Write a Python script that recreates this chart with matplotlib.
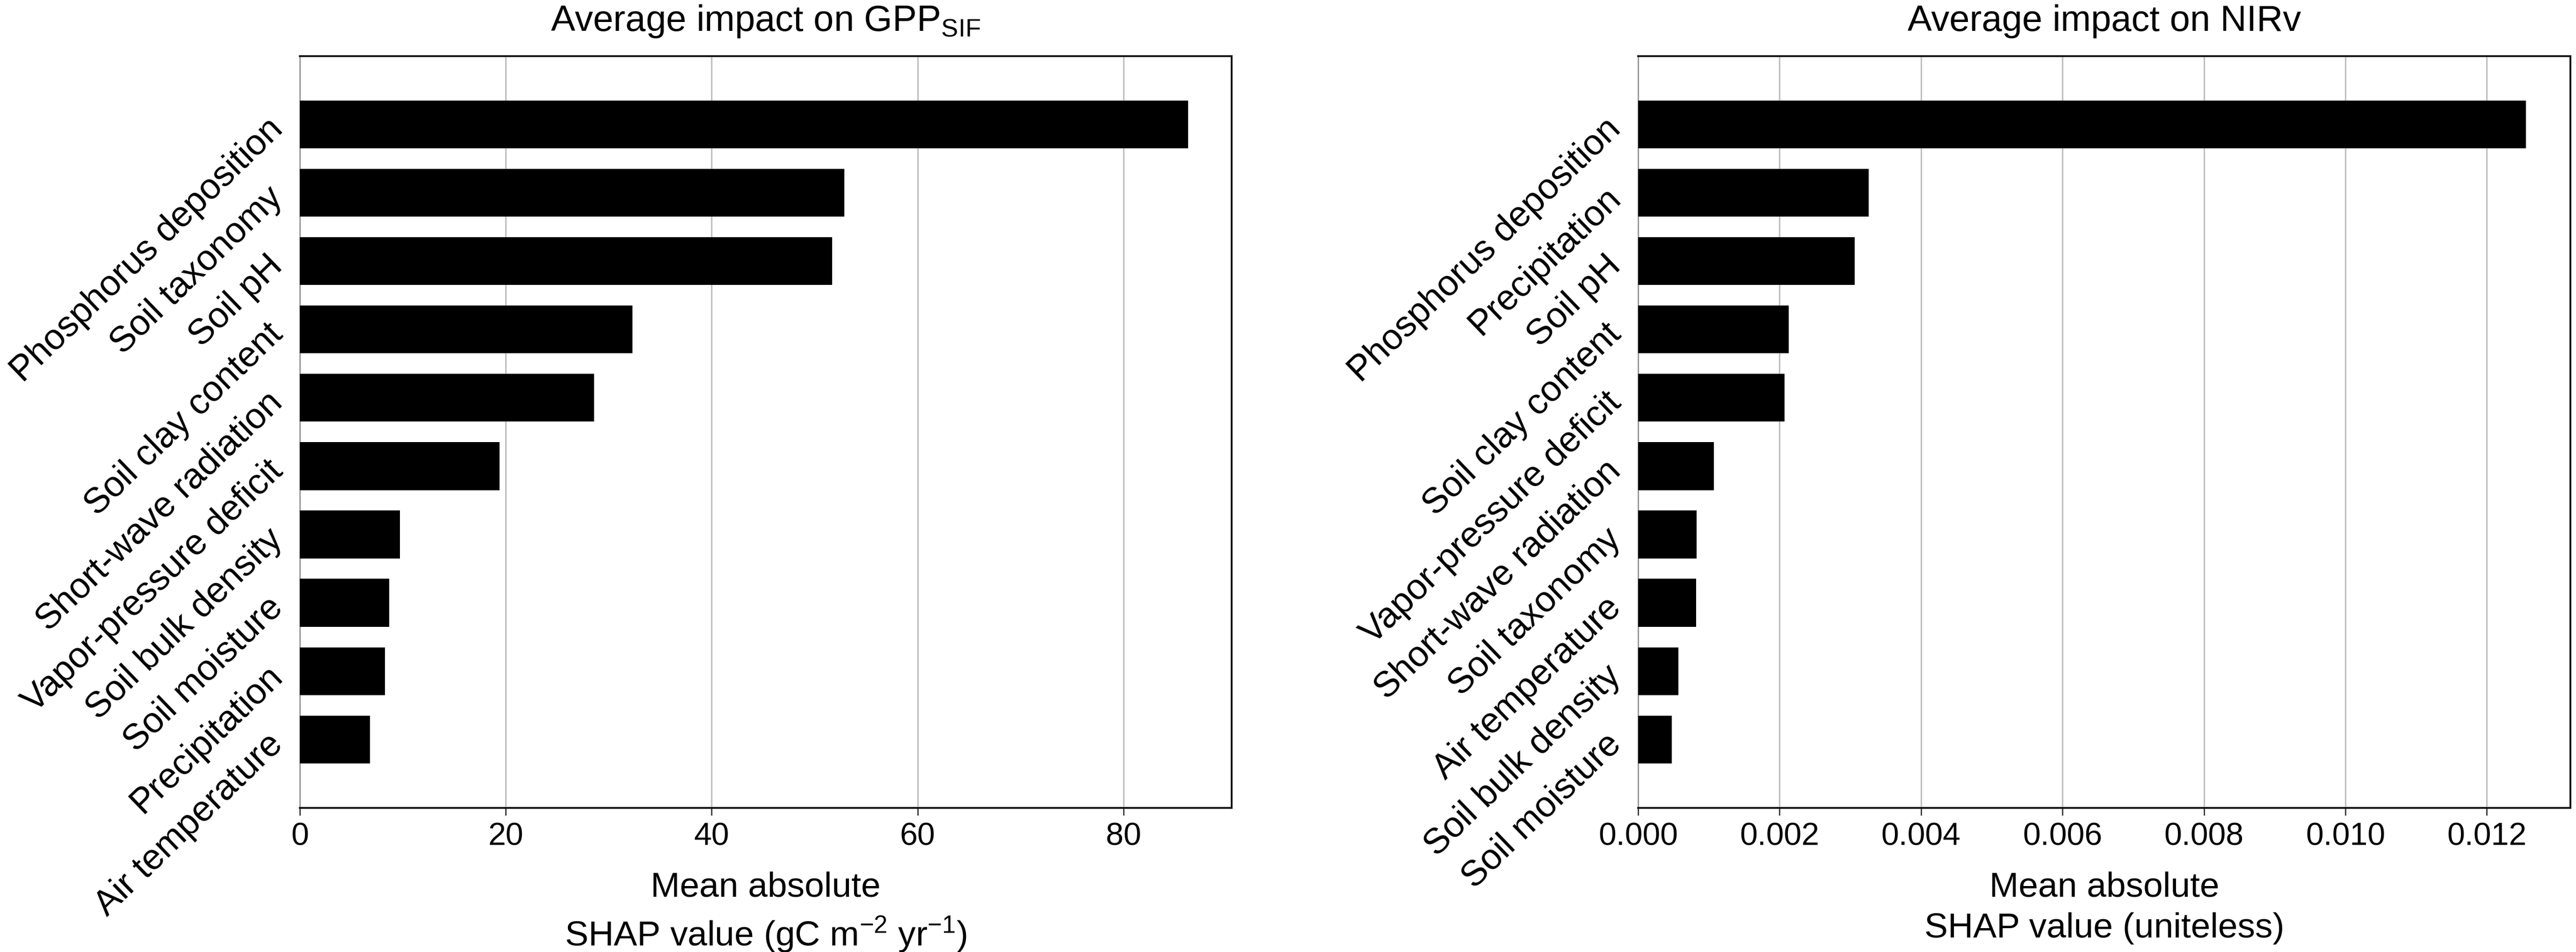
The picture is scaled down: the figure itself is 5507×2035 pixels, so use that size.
import matplotlib
matplotlib.use("Agg")
import matplotlib.pyplot as plt

plt.rcParams['font.family'] = ['Liberation Sans', 'DejaVu Sans']
plt.rcParams['mathtext.fontset'] = 'custom'
plt.rcParams['mathtext.rm'] = 'Liberation Sans'
plt.rcParams['mathtext.it'] = 'Liberation Sans:italic'
plt.rcParams['mathtext.default'] = 'regular'

# datos
gpp_features = [
    "Phosphorus deposition", "Soil taxonomy", "Soil pH", "Soil clay content",
    "Short-wave radiation", "Vapor-pressure deficit", "Soil bulk density",
    "Soil moisture", "Precipitation", "Air temperature",
]
gpp_values = [86.3, 52.9, 51.7, 32.3, 28.6, 19.4, 9.7, 8.7, 8.25, 6.8]
gpp_ticks = [0, 20, 40, 60, 80]

nirv_features = [
    "Phosphorus deposition", "Precipitation", "Soil pH", "Soil clay content",
    "Vapor-pressure deficit", "Short-wave radiation", "Soil taxonomy",
    "Air temperature", "Soil bulk density", "Soil moisture",
]
nirv_values = [0.01255, 0.00326, 0.00306, 0.00213, 0.00207,
               0.00107, 0.00083, 0.00082, 0.00057, 0.00048]
nirv_ticks = [0.000, 0.002, 0.004, 0.006, 0.008, 0.010, 0.012]

panels = [
    {
        "features": gpp_features,
        "values": gpp_values,
        "ticks": gpp_ticks,
        "ticklabels": [str(t) for t in gpp_ticks],
        "xmax": 90.5,
        "title": r"Average impact on GPP$_{\mathregular{SIF}}$",
        "xlabel": "Mean absolute\n" + r"SHAP value (gC m$^{-2}$ yr$^{-1}$)",
        "rect": [0.1164, 0.1514, 0.3617, 0.7897],
    },
    {
        "features": nirv_features,
        "values": nirv_values,
        "ticks": nirv_ticks,
        "ticklabels": [f"{t:.3f}" for t in nirv_ticks],
        "xmax": 0.01318,
        "title": "Average impact on NIRv",
        "xlabel": "Mean absolute\nSHAP value (uniteless)",
        "rect": [0.6359, 0.1514, 0.3619, 0.7897],
    },
]

fig = plt.figure(figsize=(55.07, 20.35), dpi=100)

for p in panels:
    ax = fig.add_axes(p["rect"])
    pos = list(range(len(p["features"])))
    ax.barh(pos, p["values"], height=0.7, color="black", zorder=3)
    ax.set_ylim(len(pos), -1)
    ax.set_xlim(0, p["xmax"])

    ax.set_xticks(p["ticks"])
    ax.set_xticklabels(p["ticklabels"], fontsize=49)
    ax.set_yticks(pos)
    ax.set_yticklabels(p["features"], fontsize=55, rotation=44,
                       ha="right", va="center", rotation_mode="anchor")
    ax.tick_params(axis="y", length=0, pad=34)
    ax.tick_params(axis="x", length=11.5, width=2, color="#333333", pad=10)

    ax.grid(axis="x", color="#bdbdbd", linewidth=2.2, zorder=0)
    ax.set_axisbelow(True)
    for side in ["top", "right", "bottom"]:
        ax.spines[side].set_linewidth(2.8)
        ax.spines[side].set_color("#111111")
    ax.spines["left"].set_color("#9a9a9a")
    ax.spines["left"].set_linewidth(2.2)

    ax.set_title(p["title"], fontsize=56, pad=39)
    ax.set_xlabel(p["xlabel"], fontsize=54, labelpad=30, linespacing=1.35)

fig.savefig("out.png", dpi=100)
plt.close(fig)
